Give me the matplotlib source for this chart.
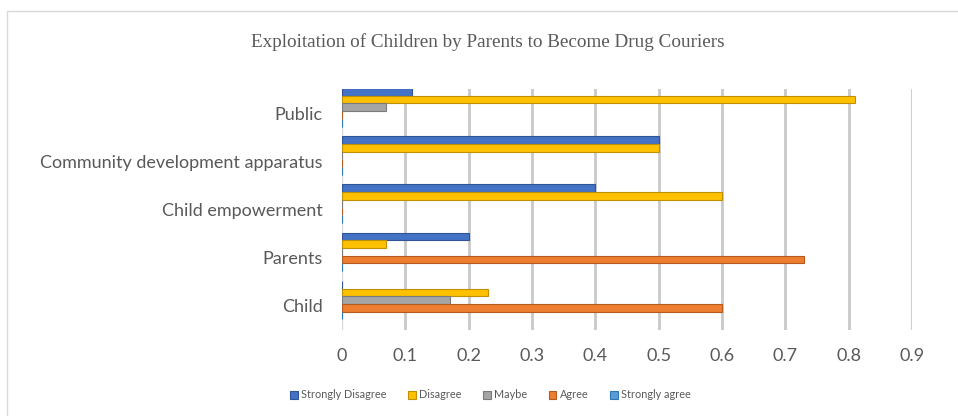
import numpy as np
import matplotlib.pyplot as plt
from matplotlib.patches import Rectangle

categories = ['Child', 'Parents', 'Child empowerment',
              'Community development apparatus', 'Public']
series_names = ['Strongly Disagree', 'Disagree', 'Maybe', 'Agree', 'Strongly agree']
strongly_disagree = [0.0, 0.2, 0.4, 0.5, 0.11]
disagree = [0.23, 0.07, 0.6, 0.5, 0.81]
maybe = [0.17, 0.0, 0.0, 0.0, 0.07]
agree = [0.6, 0.73, 0.0, 0.0, 0.0]
strongly_agree = [0.0, 0.0, 0.0, 0.0, 0.0]
x_ticks = [0, 0.1, 0.2, 0.3, 0.4, 0.5, 0.6, 0.7, 0.8, 0.9]

colors = ['#4472C4', '#FFC000', '#A5A5A5', '#ED7D31', '#5B9BD5']
edges = ['#2F5597', '#BF9000', '#7B7B7B', '#B55A1E', '#2E75B6']

fig = plt.figure(figsize=(9.58, 4.16), dpi=100)
fig.patches.append(Rectangle((7 / 958, -0.1), 1.1, 1 - 11 / 416 + 0.1,
                             transform=fig.transFigure, fill=False,
                             edgecolor='#d9d9d9', linewidth=1))
ax = fig.add_axes([342 / 958, 1 - 330 / 416, (912 - 342) / 958, (330 - 89) / 416])

y = np.arange(len(categories))
h = 0.16
data = [strongly_disagree, disagree, maybe, agree, strongly_agree]
for i, (vals, name) in enumerate(zip(data, series_names)):
    offs = (2 - i) * h + 0.12
    ax.barh(y + offs, vals, height=h, color=colors[i], edgecolor=edges[i],
            linewidth=0.8, label=name, zorder=3)

ax.set_xlim(0, 0.9)
ax.set_ylim(-0.5, 4.5)
ax.set_xticks(x_ticks)
ax.set_xticklabels(['0' if t == 0 else f'{t:g}' for t in x_ticks])
ax.set_yticks(y)
ax.set_yticklabels(categories)
for t in x_ticks[1:]:
    ax.axvline(t, color='#c9c9c9', linewidth=2, zorder=1)
ax.axvline(0, color='#d9d9d9', linewidth=1, zorder=1)
for s in ax.spines.values():
    s.set_visible(False)
ax.tick_params(axis='both', length=0, labelsize=13, labelcolor='#595959')
ax.tick_params(axis='x', pad=13)
ax.tick_params(axis='y', pad=14)
for lab in ax.get_xticklabels() + ax.get_yticklabels():
    lab.set_fontfamily('Lato')

fig.text(0.509, 1 - 42 / 416, 'Exploitation of Children by Parents to Become Drug Couriers',
         ha='center', va='center', fontsize=13.8, color='#595959',
         fontfamily='Liberation Serif')

leg = fig.legend(loc='center', bbox_to_anchor=(0.512, 1 - 395 / 416), ncol=5,
                 frameon=False, handlelength=0.7, handleheight=0.7,
                 handletextpad=0.3, columnspacing=2.0,
                 prop={'family': 'Lato', 'size': 7.8})
for t in leg.get_texts():
    t.set_color('#595959')

fig.savefig('out.png', dpi=100)
